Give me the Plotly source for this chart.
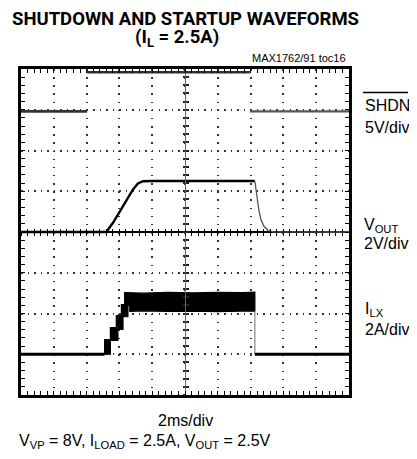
import plotly.graph_objects as go

# ---------------- data ----------------
# time axis: 2 ms/div, 10 divisions ; vertical: 8 divisions
# SHDN (V), 5 V/div, zero at +3 div
shdn_t = [0.0, 4.03, None, 4.03, 13.95, None, 13.95, 20.0]
shdn_v = [-0.2, -0.2, None, 4.6, 4.6, None, -0.2, -0.2]

# VOUT (V), 2 V/div, zero at 0 div
vout_t = [0.0, 5.20, 5.61, 6.02, 6.42, 6.83, 7.13, 7.44, 8.0, 14.26]
vout_v = [0.0, 0.0, 0.45, 1.02, 1.51, 2.09, 2.38, 2.49, 2.5, 2.5]
vout_fall_t = [14.26, 14.32, 14.40, 14.50, 14.63, 14.81, 15.07, 15.38, 20.0]
vout_fall_v = [2.5, 2.09, 1.60, 1.10, 0.61, 0.28, 0.07, 0.01, 0.0]

# ILX (A), 2 A/div, zero at -3 div
ilx_pre_t = [0.0, 5.10]
ilx_pre_a = [0.0, 0.0]
ilx_hi_t = [5.10, 5.10, 5.45, 5.45, 5.81, 5.81, 6.12, 6.12, 6.32, 6.32, 7.5, 9.0, 10.5, 12.0, 13.5, 14.26]
ilx_hi_a = [0.00, 0.72, 0.72, 1.31, 1.31, 1.90, 1.90, 2.44, 2.44, 3.02, 3.00, 3.04, 3.01, 3.04, 3.02, 3.05]
ilx_lo_t = [5.10, 5.45, 5.45, 5.91, 5.91, 6.22, 6.22, 6.52, 6.52, 6.63, 6.63, 7.5, 9.0, 10.5, 12.0, 13.5, 14.26]
ilx_lo_a = [0.00, 0.00, 0.68, 0.68, 1.22, 1.22, 1.84, 1.84, 2.38, 2.38, 2.11, 2.13, 2.10, 2.12, 2.09, 2.12, 2.11]
ilx_fall_t = [14.26, 14.26]
ilx_fall_a = [2.11, 0.0]
ilx_post_t = [14.26, 20.0]
ilx_post_a = [0.0, 0.0]

# channel scaling (units per division) and zero positions (division)
SHDN_SCALE, SHDN_ZERO = 5.0, 3.0
VOUT_SCALE, VOUT_ZERO = 2.0, 0.0
ILX_SCALE, ILX_ZERO = 2.0, -3.0


def to_div(vals, scale, zero):
    return [None if v is None else v / scale + zero for v in vals]


FONT = "Liberation Sans, Arial, sans-serif"
TFONT = "Roboto, Liberation Sans, sans-serif"

fig = go.Figure()

fig.add_trace(go.Scatter(x=shdn_t[:5], y=to_div(shdn_v[:5], SHDN_SCALE, SHDN_ZERO), mode="lines",
                         line=dict(color="#333333", width=2.6), hoverinfo="skip"))
fig.add_trace(go.Scatter(x=shdn_t[6:], y=to_div(shdn_v[6:], SHDN_SCALE, SHDN_ZERO), mode="lines",
                         line=dict(color="#555555", width=2.4), hoverinfo="skip"))
fig.add_trace(go.Scatter(x=vout_t, y=to_div(vout_v, VOUT_SCALE, VOUT_ZERO), mode="lines",
                         line=dict(color="black", width=2.4), hoverinfo="skip"))
fig.add_trace(go.Scatter(x=vout_fall_t, y=to_div(vout_fall_v, VOUT_SCALE, VOUT_ZERO), mode="lines",
                         line=dict(color="#555555", width=1.3), hoverinfo="skip"))
fig.add_trace(go.Scatter(x=ilx_pre_t, y=to_div(ilx_pre_a, ILX_SCALE, ILX_ZERO), mode="lines",
                         line=dict(color="black", width=3.2), hoverinfo="skip"))
band_t = ilx_hi_t + ilx_lo_t[::-1]
band_a = ilx_hi_a + ilx_lo_a[::-1]
fig.add_trace(go.Scatter(x=band_t, y=to_div(band_a, ILX_SCALE, ILX_ZERO), mode="lines",
                         fill="toself", fillcolor="black",
                         line=dict(color="black", width=1.2), hoverinfo="skip"))
fig.add_trace(go.Scatter(x=ilx_fall_t, y=to_div(ilx_fall_a, ILX_SCALE, ILX_ZERO), mode="lines",
                         line=dict(color="#888888", width=1.2), hoverinfo="skip"))
fig.add_trace(go.Scatter(x=ilx_post_t, y=to_div(ilx_post_a, ILX_SCALE, ILX_ZERO), mode="lines",
                         line=dict(color="black", width=3.2), hoverinfo="skip"))

fig.add_trace(go.Scatter(x=[None], y=[None], xaxis="x2", yaxis="y2", mode="lines", hoverinfo="skip"))
fig.add_trace(go.Scatter(x=[None], y=[None], xaxis="x3", yaxis="y3", mode="lines", hoverinfo="skip"))

# page body has an 8px margin: work in screen pixels and shift
OFF = 8
W, H = 417 - OFF, 459 - OFF
FL, FR, FT, FB = 21, 349, 69, 395          # frame in screen pixels
L, R, T, B = FL - OFF, W - (FR - OFF), FT - OFF, H - (FB - OFF)
PW, PH = W - L - R, H - T - B


def px(xs):
    return (xs - OFF - L) / PW


def py(ys):
    return (H - B - (ys - OFF)) / PH


common = dict(showticklabels=False, fixedrange=True, automargin=False)

fig.update_layout(
    width=W, height=H,
    margin=dict(l=L, r=R, t=T, b=B, pad=0, autoexpand=False),
    paper_bgcolor="white", plot_bgcolor="white",
    showlegend=False,
    font=dict(family=FONT, color="black"),
    xaxis=dict(range=[0, 20], dtick=2, tick0=0,
               showgrid=True, gridcolor="#333333", gridwidth=1.5, griddash="1.5px,6.65px",
               zeroline=False, showline=True, linecolor="black", linewidth=2.5, mirror="ticks",
               ticks="inside", ticklen=4, tickcolor="black", tickwidth=1,
               minor=dict(dtick=0.4, tick0=0, ticks="inside", ticklen=4, tickcolor="black",
                          tickwidth=1, showgrid=False), **common),
    yaxis=dict(range=[-4, 4], dtick=1, tick0=0,
               showgrid=True, gridcolor="#333333", gridwidth=1.5, griddash="1.5px,5.05px",
               zeroline=True, zerolinecolor="black", zerolinewidth=1.5,
               showline=True, linecolor="black", linewidth=2.5, mirror="ticks",
               ticks="inside", ticklen=4, tickcolor="black", tickwidth=1,
               minor=dict(dtick=0.2, tick0=0, ticks="inside", ticklen=4, tickcolor="black",
                          tickwidth=1, showgrid=False), **common),
    xaxis2=dict(overlaying="x", anchor="free", position=0.5, range=[0, 20], dtick=0.4, tick0=0,
                showgrid=False, zeroline=False, showline=False,
                ticks="inside", ticklen=3, tickcolor="black", tickwidth=1, **common),
    xaxis3=dict(overlaying="x", anchor="free", position=0.5, range=[0, 20], dtick=0.4, tick0=0,
                showgrid=False, zeroline=False, showline=False,
                ticks="outside", ticklen=3, tickcolor="black", tickwidth=1, **common),
    yaxis2=dict(overlaying="y", anchor="free", position=0.5, range=[-4, 4], dtick=0.2, tick0=0,
                showgrid=False, zeroline=False,
                showline=True, linecolor="#666666", linewidth=1,
                ticks="inside", ticklen=2.5, tickcolor="#222222", tickwidth=2, **common),
    yaxis3=dict(overlaying="y", anchor="free", position=0.5, range=[-4, 4], dtick=0.2, tick0=0,
                showgrid=False, zeroline=False, showline=False,
                ticks="outside", ticklen=2.5, tickcolor="#222222", tickwidth=2, **common),
)

ann = []


def add_text(text, x, y, size, xanchor="left", family=FONT):
    ann.append(dict(text=text, x=px(x), y=py(y), xref="paper", yref="paper",
                    xanchor=xanchor, yanchor="middle", showarrow=False,
                    font=dict(family=family, size=size, color="black")))


add_text("<b>SHUTDOWN AND STARTUP WAVEFORMS</b>", 185, 18.8, 18.5, "center", TFONT)
add_text("<b>(I<sub>L</sub> = 2.5A)</b>", 177, 38.5, 18.5, "center", TFONT)
add_text("MAX1762/91 toc16", 348, 58, 11, "right")
add_text("SHDN", 363, 105, 16)
add_text("5V/div", 363, 127, 16)
add_text("V<sub>OUT</sub>", 362, 225, 16)
add_text("2V/div", 362, 243, 16)
add_text("I<sub>LX</sub>", 363, 309, 16)
add_text("2A/div", 363, 329, 16)
add_text("2ms/div", 185.5, 420, 16, "center")
add_text("V<sub>VP</sub> = 8V, I<sub>LOAD</sub> = 2.5A, V<sub>OUT</sub> = 2.5V", 17, 441, 16)

fig.update_layout(annotations=ann)

fig.add_shape(type="line", xref="paper", yref="paper",
              x0=px(363), x1=px(408), y0=py(92.5), y1=py(92.5),
              line=dict(color="black", width=1.3))

fig.write_html("out.html")
